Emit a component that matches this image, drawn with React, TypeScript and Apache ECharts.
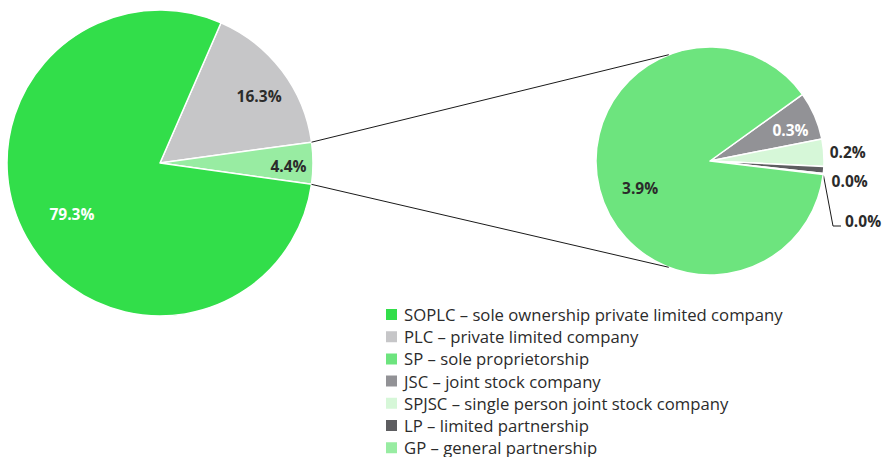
import React, { useEffect, useRef } from "react";
import * as echarts from "echarts";

// ---- data ----
const mainNames = ["PLC", "GP", "SOPLC"];
const mainValues = [16.3, 4.4, 79.3];
const detailNames = ["JSC", "SPJSC", "LP", "Other", "SP"];
const detailValues = [0.3, 0.17, 0.044, 0.006, 3.88];
const legendNames = ["SOPLC", "PLC", "SP", "JSC", "SPJSC", "LP", "GP"];
const legendTexts = [
  "SOPLC – sole ownership private limited company",
  "PLC – private limited company",
  "SP – sole proprietorship",
  "JSC – joint stock company",
  "SPJSC – single person joint stock company",
  "LP – limited partnership",
  "GP – general partnership",
];

// ---- styles / layout ----
const colorMap: Record<string, string> = {
  SOPLC: "#32de4a",
  PLC: "#c6c6c8",
  SP: "#6de47e",
  JSC: "#929296",
  SPJSC: "#d6f7d8",
  LP: "#5d5d60",
  GP: "#98eca2",
  Other: "#5d5d60",
};
const MAIN = { cx: 160, cy: 163, r: 153, start: 66.5 };
const DET = { cx: 710, cy: 161, r: 114, start: 35.7, link: 111.2 };
const mainLabelRatio = [0.78, 0.84, 0.66];
const mainLabelShift = [[4, 5], [0, 3], [0, 2]];
const mainLabelColor = ["#2b2b2b", "#2b2b2b", "#ffffff"];
type DetLbl = { inside: boolean; ratio?: number; gap?: number; dx?: number; dy?: number; leader?: boolean };
const detLabel: DetLbl[] = [
  { inside: true, ratio: 0.75, dx: 2, dy: 3 },
  { inside: false, gap: 6, dy: 0 },
  { inside: false, gap: 8, dy: 10 },
  { inside: false, leader: true },
  { inside: true, ratio: 0.66, dx: 3, dy: 8 },
];
const detLabelColor = ["#ffffff", "#2b2b2b", "#2b2b2b", "#2b2b2b", "#2b2b2b"];
const FONT = "'Open Sans', 'Noto Sans', sans-serif";
const LABEL_SIZE = 15.5;

function angles(values: number[], start: number) {
  const total = values.reduce((a, b) => a + b, 0);
  let cum = 0;
  return values.map((v) => {
    const a0 = start - (360 * cum) / total;
    cum += v;
    const a1 = start - (360 * cum) / total;
    return { a0, a1, mid: (a0 + a1) / 2 };
  });
}
function pt(cx: number, cy: number, r: number, deg: number) {
  const t = (deg * Math.PI) / 180;
  return [cx + r * Math.cos(t), cy - r * Math.sin(t)];
}

export default function App() {
  const ref = useRef<HTMLDivElement>(null);
  useEffect(() => {
    if (!ref.current) return;
    const chart = echarts.init(ref.current, null, { renderer: "svg" });
    const mAng = angles(mainValues, MAIN.start);
    const dAng = angles(detailValues, DET.start);
    const gp = mAng[mainNames.indexOf("GP")];
    const p1 = pt(MAIN.cx, MAIN.cy, MAIN.r, gp.a0);
    const p2 = pt(MAIN.cx, MAIN.cy, MAIN.r, gp.a1);
    const q1 = pt(DET.cx, DET.cy, DET.r, DET.link);
    const q2 = pt(DET.cx, DET.cy, DET.r, -DET.link);
    const fmt = (p: any) => Number(p.value).toFixed(1) + "%";

    const option: any = {
      animation: false,
      legend: {
        orient: "vertical",
        left: 384,
        top: 306,
        height: 200,
        padding: 0,
        itemWidth: 13,
        itemHeight: 13,
        itemGap: 5.2,
        icon: "rect",
        data: legendNames,
        formatter: (n: string) => legendTexts[legendNames.indexOf(n)],
        textStyle: { fontFamily: FONT, fontSize: 16.7, color: "#2b2b2b", lineHeight: 16, padding: [0, 0, 0, 1] },
        selectedMode: false,
      },
      graphic: [
        { type: "line", shape: { x1: p1[0], y1: p1[1], x2: q1[0], y2: q1[1] }, style: { stroke: "#1a1a1a", lineWidth: 1 }, z: 10 },
        { type: "line", shape: { x1: p2[0], y1: p2[1], x2: q2[0], y2: q2[1] }, style: { stroke: "#1a1a1a", lineWidth: 1 }, z: 10 },
      ],
      series: [
        {
          type: "pie",
          center: [MAIN.cx, MAIN.cy],
          radius: MAIN.r,
          startAngle: MAIN.start,
          clockwise: true,
          avoidLabelOverlap: false,
          silent: true,
          itemStyle: { borderColor: "#fff", borderWidth: 1.5 },
          data: mainNames.map((n, i) => ({
            name: n,
            value: mainValues[i],
            itemStyle: { color: colorMap[n] },
            label: { color: mainLabelColor[i] },
          })),
          label: {
            show: true,
            position: "inside",
            formatter: fmt,
            fontFamily: FONT,
            fontWeight: "bold",
            fontSize: LABEL_SIZE,
          },
          labelLine: { show: false },
          labelLayout: (p: any) => {
            const i = p.dataIndex;
            const c = pt(MAIN.cx, MAIN.cy, MAIN.r * mainLabelRatio[i], mAng[i].mid);
            return { x: c[0] + mainLabelShift[i][0], y: c[1] + mainLabelShift[i][1], align: "center", verticalAlign: "middle" };
          },
        },
        {
          type: "pie",
          center: [DET.cx, DET.cy],
          radius: DET.r,
          startAngle: DET.start,
          clockwise: true,
          avoidLabelOverlap: false,
          silent: true,
          itemStyle: { borderColor: "#fff", borderWidth: 1.5 },
          data: detailNames.map((n, i) => ({
            name: n,
            value: detailValues[i],
            itemStyle: { color: colorMap[n] },
            label: { color: detLabelColor[i], position: detLabel[i].inside ? "inside" : "outside" },
            labelLine: { show: !!detLabel[i].leader, length: 5, length2: 5, lineStyle: { color: "#1a1a1a", width: 1 } },
          })),
          label: {
            show: true,
            formatter: fmt,
            fontFamily: FONT,
            fontWeight: "bold",
            fontSize: LABEL_SIZE,
          },
          labelLayout: (p: any) => {
            const i = p.dataIndex;
            const s = detLabel[i];
            const a = dAng[i];
            if (s.inside) {
              const c = pt(DET.cx, DET.cy, DET.r * (s.ratio as number), a.mid);
              return { x: c[0] + (s.dx || 0), y: c[1] + (s.dy || 0), align: "center", verticalAlign: "middle" };
            }
            if (s.leader) {
              const e = pt(DET.cx, DET.cy, DET.r, a.mid);
              const ex = DET.cx + DET.r + 9;
              const ey = DET.cy + 65;
              return {
                x: ex + 12,
                y: ey - 5,
                align: "left",
                verticalAlign: "middle",
                labelLinePoints: [e, [ex, ey], [ex + 8, ey]],
              };
            }
            const c = pt(DET.cx, DET.cy, DET.r + (s.gap as number), a.mid);
            return { x: c[0], y: c[1] + (s.dy as number), align: "left", verticalAlign: "middle" };
          },
        },
      ],
    };
    chart.setOption(option);
    return () => chart.dispose();
  }, []);
  return <div ref={ref} style={{ position: "absolute", left: 0, top: 0, width: 884, height: 457 }} />;
}
